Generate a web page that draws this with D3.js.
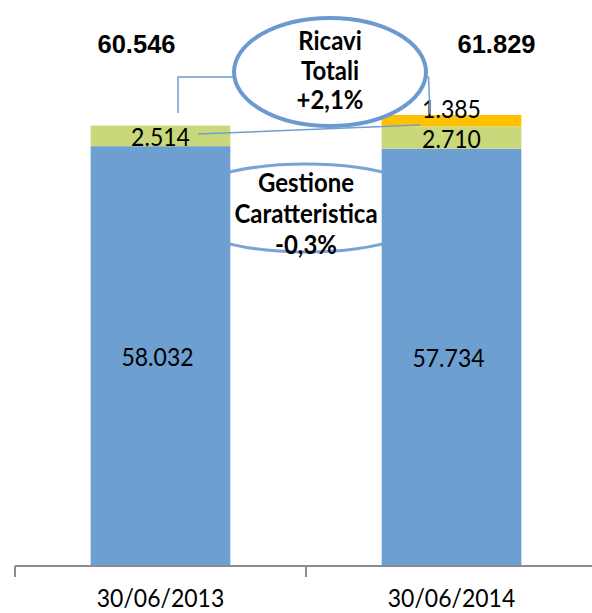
<!DOCTYPE html>
<html>
<head>
<meta charset="utf-8">
<style>
  body { margin: 0; background: #fff; }
  text { font-family: Lato, "Open Sans", sans-serif; fill: #000; }
  .tot { font-family: "Liberation Sans", Arial, sans-serif; font-weight: bold; font-size: 25.5px; }
  .note { font-weight: bold; font-size: 24px; }
  .val { font-size: 23px; }
</style>
</head>
<body>
<svg id="chart" width="592" height="613"></svg>
<script src="https://cdnjs.cloudflare.com/ajax/libs/d3/7.8.5/d3.min.js"></script>
<script>
// data
var categories = ["30/06/2013", "30/06/2014"];
var gestione = [58032, 57734];
var altri = [2514, 2710];
var extra = [0, 1385];
var totals = [60546, 61829];
var noteRicavi = ["Ricavi", "Totali", "+2,1%"];
var noteGestione = ["Gestione", "Caratteristica", "-0,3%"];

var fmt = function(v) { return d3.format(",")(v).replace(/,/g, "."); };

var svg = d3.select("#chart");
var base = 566;
var stretch = 1.12; // calibri-ish text is taller than Lato

var x = d3.scaleBand().domain(categories).range([15, 597])
    .paddingInner(0.52).paddingOuter(0.26);
var y = d3.scaleLinear().domain([6900, 61829]).range([base, 115]);

var rows = categories.map(function(c, i) {
  return { cat: c, g: gestione[i], a: altri[i], e: extra[i], t: totals[i] };
});

var mid = (x(categories[0]) + x.bandwidth() + x(categories[1])) / 2;

// place text at (px, py) and stretch it vertically
function tall(sel, px, py) {
  sel.attr("transform", function(d, i) {
    return "translate(" + px(d, i) + "," + py(d, i) + ") scale(1," + stretch + ")";
  }).attr("text-anchor", "middle");
}

// gestione ellipse sits behind the bars
svg.append("ellipse")
  .attr("cx", mid).attr("cy", 208).attr("rx", 132).attr("ry", 44)
  .attr("fill", "#fff").attr("stroke", "#7aa3d6").attr("stroke-width", 3);

// stacked bars
var segs = [
  { key: "g", color: "#6e9fd1", lo: function(d) { return y.domain()[0]; }, hi: function(d) { return d.g; } },
  { key: "a", color: "#c8d87a", lo: function(d) { return d.g; }, hi: function(d) { return d.g + d.a; } },
  { key: "e", color: "#ffc000", lo: function(d) { return d.g + d.a; }, hi: function(d) { return d.g + d.a + d.e; } }
];
segs.forEach(function(s) {
  svg.selectAll(".bar-" + s.key).data(rows).enter().append("rect")
    .attr("x", function(d) { return x(d.cat); })
    .attr("width", x.bandwidth())
    .attr("y", function(d) { return y(s.hi(d)); })
    .attr("height", function(d) { return y(s.lo(d)) - y(s.hi(d)); })
    .attr("fill", s.color);
});

// axis
svg.append("line").attr("x1", 15).attr("x2", 597).attr("y1", base).attr("y2", base)
  .attr("stroke", "#8c8c8c").attr("stroke-width", 2);
var edges = [x.range()[0], mid, x.range()[1]];
svg.selectAll(".tick").data(edges).enter().append("line")
  .attr("x1", function(d) { return d; }).attr("x2", function(d) { return d; })
  .attr("y1", base).attr("y2", base + 11)
  .attr("stroke", "#8c8c8c").attr("stroke-width", 2);
svg.selectAll(".xlab").data(categories).enter().append("text")
  .attr("class", "val")
  .call(tall, function(d) { return x(d) + x.bandwidth() / 2; }, function() { return 607; })
  .text(function(d) { return d; });

// value labels
svg.selectAll(".lg").data(rows).enter().append("text").attr("class", "val")
  .call(tall, function(d) { return x(d.cat) + x.bandwidth() / 2 - 3; },
              function(d) { return (y(d.g) + base) / 2 + 9.5; })
  .text(function(d) { return fmt(d.g); });
svg.selectAll(".la").data(rows).enter().append("text").attr("class", "val")
  .call(tall, function(d) { return x(d.cat) + x.bandwidth() / 2; },
              function(d) { return y(d.g) - 0.5; })
  .text(function(d) { return fmt(d.a); });
svg.selectAll(".le").data(rows.filter(function(d) { return d.e > 0; })).enter().append("text").attr("class", "val")
  .call(tall, function(d) { return x(d.cat) + x.bandwidth() / 2; },
              function(d) { return y(d.g + d.a + d.e) + 3; })
  .text(function(d) { return fmt(d.e); });

// totals
var totOffset = [-24, 45];
svg.selectAll(".tot").data(rows).enter().append("text").attr("class", "tot")
  .attr("x", function(d, i) { return x(d.cat) + x.bandwidth() / 2 + totOffset[i]; })
  .attr("y", 53).attr("text-anchor", "middle")
  .text(function(d) { return fmt(d.t); });

// connectors
var lineColor = "#6e9fd1";
svg.append("polyline").attr("points", "178,113 178,77 236,77")
  .attr("fill", "none").attr("stroke", lineColor).attr("stroke-width", 1.5);
svg.append("polyline").attr("points", "424,76 428.5,77 430,114")
  .attr("fill", "none").attr("stroke", lineColor).attr("stroke-width", 1.5);
svg.append("line").attr("x1", 198).attr("y1", 134).attr("x2", 420).attr("y2", 125)
  .attr("stroke", lineColor).attr("stroke-width", 1.5);

// ricavi ellipse
svg.append("ellipse")
  .attr("cx", mid + 24).attr("cy", 72).attr("rx", 96).attr("ry", 54)
  .attr("fill", "#fff").attr("stroke", "#6a9ad0").attr("stroke-width", 4);

svg.selectAll(".nr").data(noteRicavi).enter().append("text").attr("class", "note")
  .call(tall, function() { return mid + 24; }, function(d, i) { return 50 + i * 29.5; })
  .text(function(d) { return d; });
svg.selectAll(".ng").data(noteGestione).enter().append("text").attr("class", "note")
  .call(tall, function() { return mid; }, function(d, i) { return 192 + i * 31; })
  .text(function(d) { return d; });
</script>
</body>
</html>
